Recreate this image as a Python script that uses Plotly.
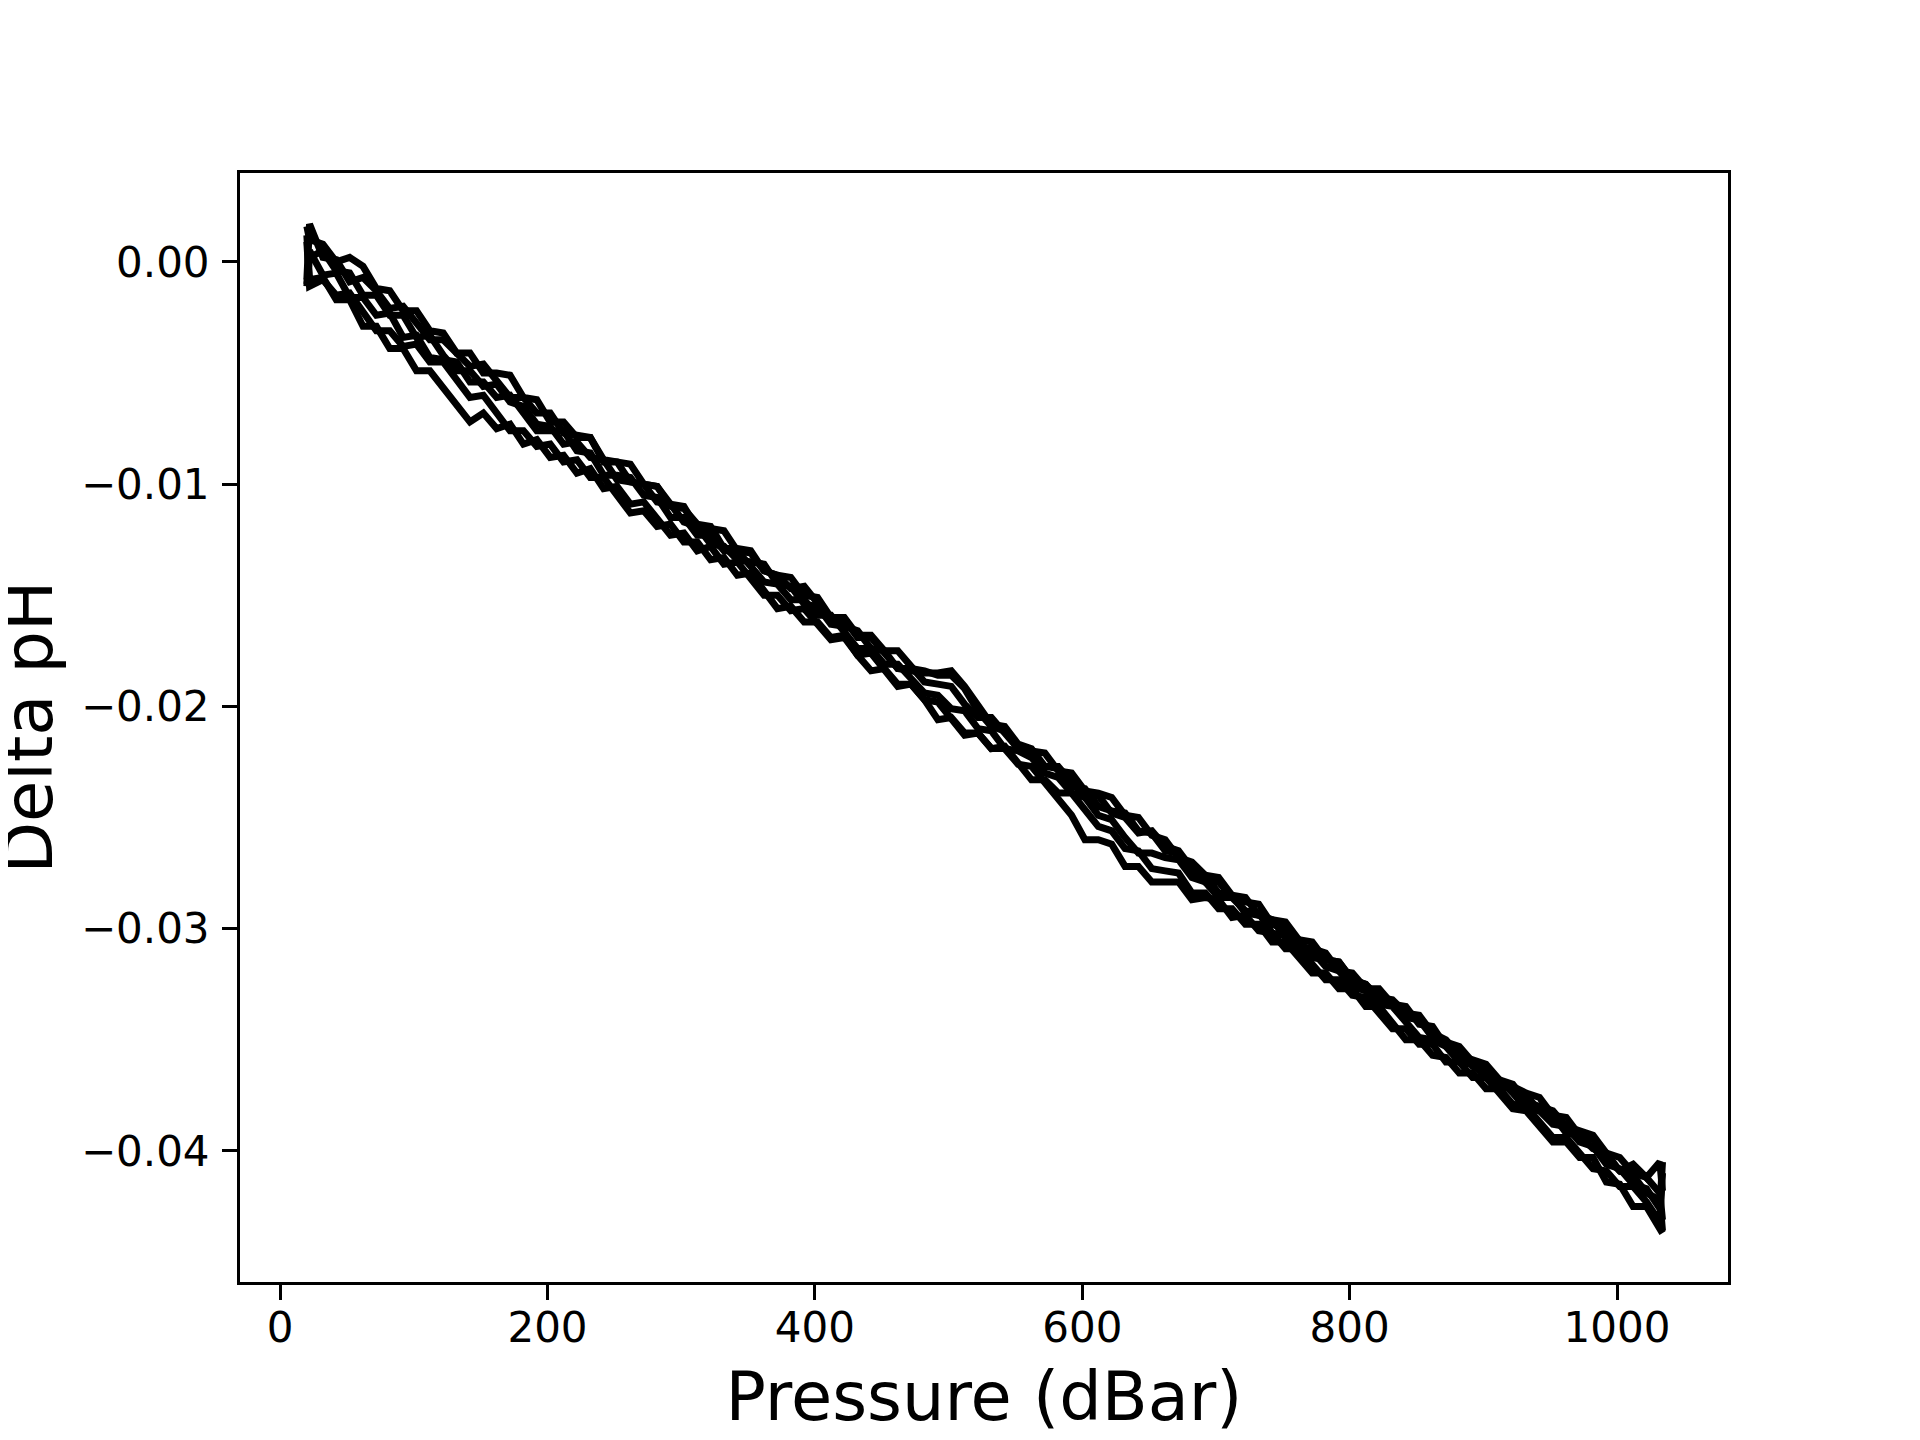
import plotly.graph_objects as go

# pressure grid (dBar) shared by all profiles
pressure = [20, 22, 32, 42, 52, 62, 72, 82, 92, 102, 112, 122, 132, 142, 152, 162, 172, 182, 192, 202, 212,
            222, 232, 242, 252, 262, 272, 282, 292, 302, 312, 322, 332, 342, 352, 362, 372, 382, 392, 402, 412,
            422, 432, 442, 452, 462, 472, 482, 492, 502, 512, 522, 532, 542, 552, 562, 572, 582, 592, 602, 612,
            622, 632, 642, 652, 662, 672, 682, 692, 702, 712, 722, 732, 742, 752, 762, 772, 782, 792, 802, 812,
            822, 832, 842, 852, 862, 872, 882, 892, 902, 912, 922, 932, 942, 952, 962, 972, 982, 992, 1002, 1012,
            1022, 1032, 1034]

# delta pH for each profile
dph_1 = [-0.0008, 0.0017, 0.0002, 0.0001, -0.0009, -0.0007, -0.0013, -0.0021, -0.0020, -0.0027, -0.0035,
         -0.0035, -0.0041, -0.0047, -0.0046, -0.0054, -0.0061, -0.0061, -0.0068, -0.0068, -0.0077,
         -0.0078, -0.0079, -0.0089, -0.0090, -0.0099, -0.0100, -0.0101, -0.0110, -0.0111, -0.0118,
         -0.0119, -0.0129, -0.0129, -0.0130, -0.0139, -0.0141, -0.0147, -0.0146, -0.0154, -0.0161,
         -0.0161, -0.0169, -0.0169, -0.0176, -0.0183, -0.0183, -0.0184, -0.0186, -0.0186, -0.0192,
         -0.0202, -0.0209, -0.0211, -0.0219, -0.0221, -0.0227, -0.0227, -0.0234, -0.0241, -0.0240,
         -0.0248, -0.0250, -0.0257, -0.0256, -0.0263, -0.0265, -0.0273, -0.0279, -0.0279, -0.0286,
         -0.0288, -0.0289, -0.0298, -0.0300, -0.0308, -0.0309, -0.0311, -0.0319, -0.0320, -0.0327,
         -0.0327, -0.0334, -0.0340, -0.0341, -0.0349, -0.0351, -0.0353, -0.0360, -0.0362, -0.0369,
         -0.0371, -0.0374, -0.0376, -0.0384, -0.0385, -0.0393, -0.0395, -0.0403, -0.0409, -0.0406,
         -0.0412, -0.0405, -0.0418]
dph_2 = [0.0012, -0.0008, -0.0007, -0.0017, -0.0017, -0.0029, -0.0029, -0.0039, -0.0039, -0.0049, -0.0049,
         -0.0057, -0.0064, -0.0072, -0.0068, -0.0075, -0.0073, -0.0082, -0.0080, -0.0088, -0.0087,
         -0.0095, -0.0093, -0.0102, -0.0101, -0.0109, -0.0108, -0.0116, -0.0123, -0.0122, -0.0130,
         -0.0128, -0.0136, -0.0135, -0.0143, -0.0150, -0.0150, -0.0157, -0.0156, -0.0163, -0.0170,
         -0.0169, -0.0177, -0.0176, -0.0184, -0.0191, -0.0190, -0.0197, -0.0198, -0.0205, -0.0213,
         -0.0212, -0.0219, -0.0219, -0.0226, -0.0227, -0.0234, -0.0241, -0.0249, -0.0260, -0.0260,
         -0.0262, -0.0272, -0.0272, -0.0279, -0.0279, -0.0279, -0.0287, -0.0286, -0.0287, -0.0295,
         -0.0294, -0.0301, -0.0302, -0.0309, -0.0309, -0.0316, -0.0323, -0.0323, -0.0330, -0.0331,
         -0.0338, -0.0345, -0.0345, -0.0352, -0.0352, -0.0360, -0.0360, -0.0367, -0.0367, -0.0374,
         -0.0381, -0.0382, -0.0389, -0.0396, -0.0396, -0.0403, -0.0403, -0.0414, -0.0415, -0.0425,
         -0.0425, -0.0435, -0.0437]
dph_3 = [-0.0011, 0.0005, -0.0006, -0.0005, -0.0016, -0.0016, -0.0024, -0.0023, -0.0034, -0.0033, -0.0043,
         -0.0044, -0.0045, -0.0054, -0.0054, -0.0061, -0.0060, -0.0068, -0.0076, -0.0076, -0.0076,
         -0.0085, -0.0086, -0.0096, -0.0096, -0.0097, -0.0105, -0.0106, -0.0115, -0.0115, -0.0123,
         -0.0123, -0.0130, -0.0130, -0.0137, -0.0144, -0.0145, -0.0152, -0.0152, -0.0159, -0.0159,
         -0.0166, -0.0174, -0.0174, -0.0181, -0.0181, -0.0187, -0.0194, -0.0195, -0.0201, -0.0202,
         -0.0210, -0.0211, -0.0219, -0.0220, -0.0223, -0.0230, -0.0232, -0.0239, -0.0241, -0.0249,
         -0.0251, -0.0259, -0.0266, -0.0266, -0.0268, -0.0269, -0.0277, -0.0279, -0.0286, -0.0286,
         -0.0292, -0.0293, -0.0302, -0.0303, -0.0309, -0.0310, -0.0317, -0.0319, -0.0326, -0.0328,
         -0.0334, -0.0335, -0.0342, -0.0349, -0.0350, -0.0353, -0.0360, -0.0361, -0.0367, -0.0368,
         -0.0374, -0.0381, -0.0382, -0.0388, -0.0389, -0.0396, -0.0398, -0.0406, -0.0408, -0.0415,
         -0.0417, -0.0426, -0.0405]
dph_4 = [0.0016, 0.0010, 0.0008, 0.0000, 0.0002, -0.0002, -0.0012, -0.0013, -0.0022, -0.0022, -0.0031,
         -0.0032, -0.0041, -0.0041, -0.0050, -0.0050, -0.0051, -0.0061, -0.0062, -0.0072, -0.0072,
         -0.0079, -0.0079, -0.0090, -0.0090, -0.0091, -0.0100, -0.0101, -0.0109, -0.0110, -0.0120,
         -0.0120, -0.0121, -0.0130, -0.0131, -0.0139, -0.0141, -0.0142, -0.0150, -0.0151, -0.0160,
         -0.0160, -0.0168, -0.0168, -0.0175, -0.0175, -0.0182, -0.0189, -0.0190, -0.0191, -0.0199,
         -0.0205, -0.0205, -0.0212, -0.0219, -0.0220, -0.0221, -0.0229, -0.0230, -0.0238, -0.0239,
         -0.0241, -0.0249, -0.0250, -0.0258, -0.0260, -0.0268, -0.0270, -0.0276, -0.0277, -0.0285,
         -0.0286, -0.0294, -0.0296, -0.0297, -0.0305, -0.0306, -0.0314, -0.0315, -0.0323, -0.0325,
         -0.0331, -0.0332, -0.0338, -0.0339, -0.0347, -0.0350, -0.0357, -0.0359, -0.0361, -0.0368,
         -0.0370, -0.0378, -0.0380, -0.0382, -0.0389, -0.0391, -0.0393, -0.0401, -0.0403, -0.0410,
         -0.0412, -0.0419, -0.0431]
dph_5 = [0.0009, -0.0011, -0.0008, -0.0015, -0.0014, -0.0023, -0.0031, -0.0031, -0.0038, -0.0037, -0.0045,
         -0.0045, -0.0053, -0.0061, -0.0060, -0.0068, -0.0076, -0.0076, -0.0083, -0.0082, -0.0090,
         -0.0089, -0.0097, -0.0097, -0.0105, -0.0113, -0.0112, -0.0119, -0.0118, -0.0126, -0.0126,
         -0.0134, -0.0133, -0.0141, -0.0140, -0.0148, -0.0156, -0.0155, -0.0162, -0.0162, -0.0169,
         -0.0168, -0.0177, -0.0184, -0.0183, -0.0190, -0.0190, -0.0197, -0.0206, -0.0205, -0.0212,
         -0.0212, -0.0219, -0.0218, -0.0225, -0.0233, -0.0233, -0.0239, -0.0239, -0.0246, -0.0254,
         -0.0256, -0.0264, -0.0265, -0.0273, -0.0274, -0.0275, -0.0284, -0.0284, -0.0291, -0.0291,
         -0.0298, -0.0298, -0.0306, -0.0306, -0.0313, -0.0320, -0.0320, -0.0327, -0.0327, -0.0335,
         -0.0335, -0.0342, -0.0350, -0.0350, -0.0357, -0.0358, -0.0365, -0.0365, -0.0372, -0.0372,
         -0.0379, -0.0380, -0.0387, -0.0394, -0.0394, -0.0401, -0.0408, -0.0409, -0.0416, -0.0416,
         -0.0423, -0.0432, -0.0410]
dph_6 = [-0.0010, 0.0002, 0.0005, -0.0004, -0.0005, -0.0015, -0.0015, -0.0024, -0.0024, -0.0034, -0.0033,
         -0.0042, -0.0049, -0.0049, -0.0056, -0.0055, -0.0063, -0.0065, -0.0073, -0.0074, -0.0082,
         -0.0081, -0.0088, -0.0089, -0.0098, -0.0099, -0.0100, -0.0108, -0.0109, -0.0117, -0.0119,
         -0.0127, -0.0128, -0.0134, -0.0135, -0.0136, -0.0145, -0.0146, -0.0154, -0.0155, -0.0163,
         -0.0164, -0.0166, -0.0174, -0.0175, -0.0183, -0.0184, -0.0185, -0.0185, -0.0184, -0.0191,
         -0.0200, -0.0208, -0.0209, -0.0217, -0.0219, -0.0227, -0.0228, -0.0236, -0.0237, -0.0245,
         -0.0247, -0.0248, -0.0256, -0.0257, -0.0265, -0.0266, -0.0275, -0.0276, -0.0284, -0.0285,
         -0.0293, -0.0294, -0.0296, -0.0304, -0.0305, -0.0313, -0.0314, -0.0315, -0.0323, -0.0325,
         -0.0333, -0.0334, -0.0335, -0.0343, -0.0344, -0.0353, -0.0355, -0.0362, -0.0364, -0.0371,
         -0.0372, -0.0375, -0.0382, -0.0384, -0.0392, -0.0393, -0.0399, -0.0401, -0.0409, -0.0411,
         -0.0419, -0.0422, -0.0436]

profiles = [dph_1, dph_2, dph_3, dph_4, dph_5, dph_6]

y_ticks = [0.0, -0.01, -0.02, -0.03, -0.04]
y_labels = ['0.00', '\u22120.01', '\u22120.02', '\u22120.03', '\u22120.04']
x_ticks = [0, 200, 400, 600, 800, 1000]

fig = go.Figure()
for prof in profiles:
    fig.add_trace(go.Scatter(x=pressure, y=prof, mode='lines',
                             line=dict(color='black', width=7),
                             showlegend=False))

font = 'DejaVu Sans'
# page body has an 8px default margin, so the figure is 8px smaller
fig.update_layout(width=1912, height=1432,
                  margin=dict(l=232, r=192, t=165, b=158),
                  paper_bgcolor='white', plot_bgcolor='white',
                  font=dict(family=font, color='black'))
fig.update_xaxes(range=[-30, 1083], tickvals=x_ticks, automargin=False,
                 ticks='outside', ticklen=15, tickwidth=3, tickcolor='black',
                 showline=True, linewidth=3, linecolor='black', mirror=True,
                 showgrid=False, zeroline=False, ticklabelstandoff=-8,
                 tickfont=dict(family=font, size=42, color='black'),
                 title=dict(text='Pressure (dBar)', standoff=22,
                            font=dict(family=font, size=67, color='black')))
fig.update_yaxes(range=[-0.0459, 0.0040], tickvals=y_ticks, ticktext=y_labels,
                 automargin=False,
                 ticks='outside', ticklen=15, tickwidth=3, tickcolor='black',
                 showline=True, linewidth=3, linecolor='black', mirror=True,
                 showgrid=False, zeroline=False, ticklabelstandoff=4,
                 tickfont=dict(family=font, size=42, color='black'))
# y title placed as an annotation so it can sit close to the page edge
fig.add_annotation(text='Delta pH', xref='paper', yref='paper', x=0, y=0.5,
                   xshift=-212, xanchor='center', yanchor='middle',
                   textangle=-90, showarrow=False,
                   font=dict(family=font, size=67, color='black'))

fig.write_html("out.html")
